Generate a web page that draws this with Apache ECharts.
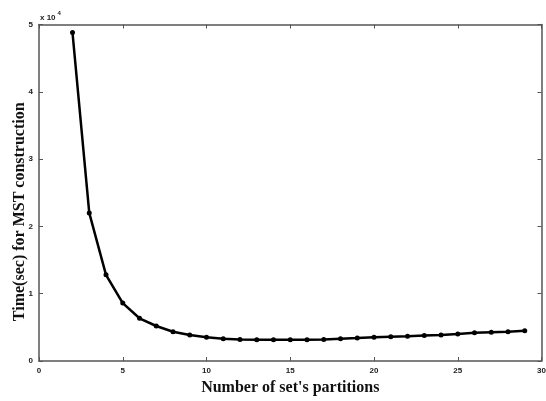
<!DOCTYPE html>
<html>
<head>
<meta charset="utf-8">
<script src="https://cdn.jsdelivr.net/npm/echarts@6/dist/echarts.min.js"></script>
<style>
  html, body { margin: 0; padding: 0; background: #fff; }
  #chart { width: 546px; height: 401px; }
</style>
</head>
<body>
<div id="chart"></div>
<script>
// number of partitions
let partitions = [2, 3, 4, 5, 6, 7, 8, 9, 10, 11, 12, 13, 14, 15, 16, 17, 18, 19, 20, 21, 22, 23, 24, 25, 26, 27, 28, 29];
// time in seconds
let timeSec = [48800, 22000, 12800, 8600, 6350, 5200, 4350, 3860, 3520, 3300, 3200, 3170, 3170, 3150, 3170, 3200, 3300, 3400, 3520, 3600, 3670, 3800, 3860, 4000, 4200, 4280, 4350, 4500];
let xTicks = [0, 5, 10, 15, 20, 25, 30];
let yTicks = [0, 1, 2, 3, 4, 5];

let axisColor = "#555";
let tickFont = { color: "#222", fontSize: 8, fontWeight: "bold", fontFamily: "Liberation Sans" };
let nameFont = { color: "#111", fontSize: 16, fontWeight: "bold", fontFamily: "Liberation Serif" };

let option = {
  backgroundColor: "#fff",
  animation: false,
  title: {
    text: "{a|x 10}{b|4}",
    left: 40,
    top: 8,
    padding: 0,
    textStyle: {
      rich: {
        a: { fontSize: 8, fontWeight: "bold", color: "#222", fontFamily: "Liberation Sans", padding: [6, 0, 0, 0] },
        b: { fontSize: 6, fontWeight: "bold", color: "#222", fontFamily: "Liberation Sans", padding: [0, 0, 4, 2] }
      }
    }
  },
  grid: {
    top: 24.5,
    left: 39,
    right: 4.5,
    bottom: 40,
    containLabel: false,
    outerBoundsMode: "none"
  },
  xAxis: [
    {
      type: "value",
      min: 0,
      max: 30,
      interval: 5,
      name: "Number of set's partitions",
      nameLocation: "middle",
      nameGap: 19,
      nameMoveOverlap: false,
      nameTextStyle: nameFont,
      axisLine: { show: true, onZero: false, lineStyle: { color: axisColor, width: 1.5 } },
      axisTick: { show: true, inside: true, length: 4, lineStyle: { color: axisColor } },
      axisLabel: Object.assign({ margin: 6, formatter: v => (xTicks.indexOf(v) >= 0 ? v : "") }, tickFont),
      splitLine: { show: false }
    },
    {
      type: "value",
      position: "top",
      min: 0,
      max: 30,
      interval: 5,
      axisLine: { show: true, onZero: false, lineStyle: { color: axisColor, width: 1.5 } },
      axisTick: { show: true, inside: true, length: 4, lineStyle: { color: axisColor } },
      axisLabel: { show: false },
      splitLine: { show: false }
    }
  ],
  yAxis: [
    {
      type: "value",
      min: 0,
      max: 50000,
      interval: 10000,
      name: "Time(sec) for MST construction",
      nameLocation: "middle",
      nameGap: 11,
      nameMoveOverlap: false,
      nameTextStyle: Object.assign({ padding: [0, 38, 0, 0] }, nameFont),
      axisLine: { show: true, onZero: false, lineStyle: { color: axisColor, width: 1.5 } },
      axisTick: { show: true, inside: true, length: 4, lineStyle: { color: axisColor } },
      axisLabel: Object.assign({ margin: 6, formatter: v => yTicks[v / 10000] }, tickFont),
      splitLine: { show: false }
    },
    {
      type: "value",
      position: "right",
      min: 0,
      max: 50000,
      interval: 10000,
      axisLine: { show: true, onZero: false, lineStyle: { color: axisColor, width: 1.5 } },
      axisTick: { show: true, inside: true, length: 4, lineStyle: { color: axisColor } },
      axisLabel: { show: false },
      splitLine: { show: false }
    }
  ],
  series: [
    {
      name: "time",
      type: "line",
      data: partitions.map((p, i) => [p, timeSec[i]]),
      symbol: "circle",
      symbolSize: 5,
      lineStyle: { color: "#000", width: 2.5 },
      itemStyle: { color: "#000" }
    }
  ]
};

let dom = echarts.init(document.getElementById("chart"));
dom.setOption(option);
</script>
</body>
</html>
